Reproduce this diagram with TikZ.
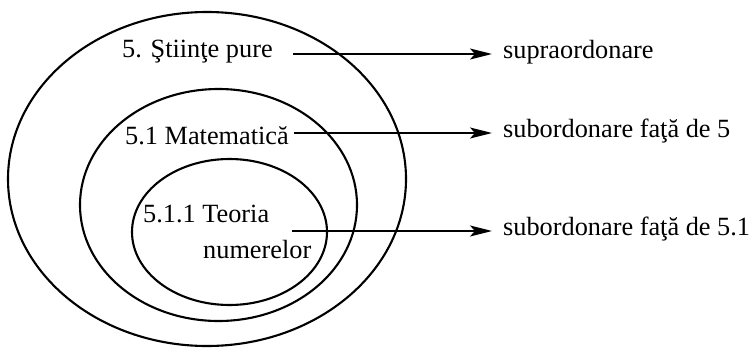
\documentclass[tikz,border=0pt]{standalone}
\usepackage{fontspec}
\setmainfont{Liberation Serif}
\usetikzlibrary{shapes.geometric,arrows.meta}
\begin{document}
\begin{tikzpicture}[x=1pt,y=-1pt,
  ring/.style={draw, ellipse, line width=2.1pt, inner sep=0pt},
  lbl/.style={inner sep=0pt, anchor=base west, font=\fontsize{26.3}{30}\selectfont},
  arr/.style={line width=2.1pt, -{Stealth[length=22pt,width=11pt,inset=5pt]}, shorten >=11pt}]
\useasboundingbox (0,0) rectangle (754,348);
\node[ring, minimum width=398pt, minimum height=334pt] (outer) at (207,179) {};
\node[ring, minimum width=277pt, minimum height=232pt] (middle) at (218.5,205) {};
\node[ring, minimum width=195pt, minimum height=146pt] (inner) at (229.5,232) {};
\node[lbl] (t1) at (122,57) {5. Ştiinţe pure};
\node[lbl] (t2) at (125,144) {5.1 Matematică};
\node[lbl] (t3a) at (143,222) {5.1.1 Teoria};
\node[lbl] (t3b) at (203,258) {numerelor};
\node[lbl] (r1) at (503,58) {supraordonare};
\node[lbl] (r2) at (503,137) {subordonare faţă de 5};
\node[lbl] (r3) at (503,235) {subordonare faţă de 5.1};
\coordinate (s1) at (293,54);
\coordinate (s2) at (294,133);
\coordinate (s3) at (292,231);
\draw[arr] (s1) -- (s1 -| r1.west);
\draw[arr] (s2) -- (s2 -| r2.west);
\draw[arr] (s3) -- (s3 -| r3.west);
\end{tikzpicture}
\end{document}
